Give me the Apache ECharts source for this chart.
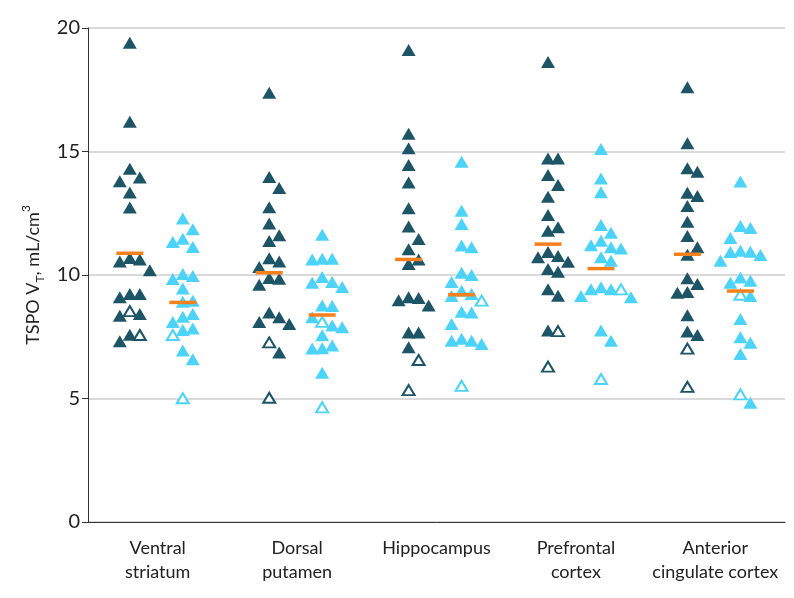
<!DOCTYPE html>
<html><head><meta charset="utf-8">
<script src="https://cdn.jsdelivr.net/npm/echarts@6/dist/echarts.min.js"></script>
<style>html,body{margin:0;padding:0;background:#fff}#c{width:794px;height:598px}</style>
</head><body><div id="c"></div>
<script>
// ---- data ----
const categories = ['Ventral\nstriatum', 'Dorsal\nputamen', 'Hippocampus', 'Prefrontal\ncortex', 'Anterior\ncingulate cortex'];
const yTicks = [0, 5, 10, 15, 20];
const darkFilled = [
  [19.4, 16.2, 14.3, 13.95, 13.8, 13.34, 12.73, 10.69, 10.63, 10.55, 10.19, 9.23, 9.23, 9.1, 8.42, 8.35, 7.58, 7.32],
  [17.38, 13.97, 13.52, 12.74, 12.09, 11.61, 11.38, 10.68, 10.55, 10.32, 9.88, 9.85, 9.61, 8.48, 8.29, 8.1, 8.02, 6.86],
  [19.11, 15.72, 15.13, 14.45, 13.74, 12.7, 11.96, 11.46, 11.04, 10.63, 10.45, 9.1, 9.07, 8.98, 8.77, 7.67, 7.67, 7.07],
  [18.62, 14.72, 14.72, 14.05, 13.64, 13.17, 12.43, 11.93, 11.79, 10.93, 10.77, 10.72, 10.54, 10.24, 10.13, 9.42, 9.16, 7.75],
  [17.6, 15.33, 14.32, 14.18, 13.33, 13.2, 12.79, 12.16, 11.58, 11.12, 10.82, 9.87, 9.64, 9.31, 9.28, 8.37, 7.71, 7.57]
];
const darkOpen = [[8.54, 7.57], [7.27, 5.03], [6.56, 5.34], [7.73, 6.29], [7.02, 5.47]];
const lightFilled = [
  [12.29, 11.85, 11.47, 11.34, 11.13, 10.04, 9.96, 9.84, 9.45, 8.96, 8.92, 8.42, 8.31, 8.1, 7.83, 7.77, 6.94, 6.59],
  [11.63, 10.66, 10.66, 10.63, 9.92, 9.72, 9.69, 9.51, 8.77, 8.74, 8.29, 7.96, 7.88, 7.56, 7.15, 7.03, 7.02, 6.04],
  [14.59, 12.6, 12.06, 11.19, 11.12, 10.09, 10.0, 9.72, 9.36, 9.23, 9.15, 8.51, 8.48, 8.02, 7.42, 7.34, 7.34, 7.21],
  [15.1, 13.91, 13.35, 12.02, 11.71, 11.39, 11.2, 11.12, 11.07, 10.72, 10.58, 9.5, 9.42, 9.42, 9.15, 9.1, 7.75, 7.34],
  [13.79, 11.98, 11.9, 11.5, 10.98, 10.94, 10.93, 10.81, 10.58, 9.9, 9.77, 9.69, 9.15, 8.22, 7.48, 7.26, 6.8, 4.83]
];
const lightOpen = [[7.57, 5.01], [8.1, 4.64], [8.96, 5.51], [9.42, 5.79], [9.2, 5.17]];
const darkMean = [10.88, 10.09, 10.63, 11.25, 10.84];
const lightMean = [8.89, 8.38, 9.2, 10.26, 9.35];

// ---- layout / style ----
const DARK = '#1e5566', LIGHT = '#4dd3f8', ORANGE = '#f7801e';
const GRID = {left: 88, right: 9, top: 28, bottom: 76};
const W = 794, H = 598;
const yMax = 20;
const pxPerY = (H - GRID.top - GRID.bottom) / yMax;
const pxPerX = (W - GRID.left - GRID.right) / categories.length;
const GROUP_OFF = 0.2;
const STEP = 5, MINDX = 10, MINDY = 13;

function swarm(filled, open, center) {
  const pts = filled.map(v => ({v, open: false})).concat(open.map(v => ({v, open: true})));
  pts.sort((a, b) => b.v - a.v);
  const placed = [];
  pts.forEach(p => {
    const py = p.v * pxPerY;
    for (let k = 0; k < 60; k++) {
      const off = (k % 2 === 1 ? 1 : -1) * Math.ceil(k / 2) * STEP;
      const ok = placed.every(q => Math.abs(q.px - off) >= MINDX || Math.abs(q.py - py) >= MINDY);
      if (ok) { placed.push({px: off, py, v: p.v, open: p.open}); break; }
    }
  });
  return placed.map(q => ({value: [center + q.px / pxPerX, q.v], open: q.open}));
}

const dF = [], dO = [], lF = [], lO = [], dM = [], lM = [];
categories.forEach((c, i) => {
  const cd = i + 0.5 - GROUP_OFF, cl = i + 0.5 + GROUP_OFF * 0.9;
  swarm(darkFilled[i], darkOpen[i], cd).forEach(p => (p.open ? dO : dF).push(p.value));
  swarm(lightFilled[i], lightOpen[i], cl).forEach(p => (p.open ? lO : lF).push(p.value));
  dM.push([cd, darkMean[i]]);
  lM.push([cl, lightMean[i]]);
});

const chart = echarts.init(document.getElementById('c'), null, {renderer: 'canvas'});
const FONT = 'Lato';
chart.setOption({
  animation: false,
  backgroundColor: '#fff',
  grid: GRID,
  xAxis: [
    {type: 'category', data: categories, boundaryGap: true,
     axisLine: {lineStyle: {color: '#333', width: 1}}, axisTick: {show: false},
     axisLabel: {interval: 0, fontFamily: FONT, fontSize: 18, lineHeight: 24, color: '#222', margin: 14}},
    {type: 'value', min: 0, max: categories.length, show: false}
  ],
  yAxis: {type: 'value', min: 0, max: yMax, interval: 5,
    axisLine: {show: true, lineStyle: {color: '#333', width: 1}},
    axisTick: {show: true, length: 6, lineStyle: {color: '#333'}},
    axisLabel: {fontFamily: FONT, fontSize: 20, color: '#222', margin: 8},
    splitLine: {lineStyle: {color: '#d9d9d9', width: 2}},
    name: '{a|TSPO V}{s|T}{a|, mL/cm}{p|3}', nameLocation: 'middle', nameGap: 38,
    nameTextStyle: {fontFamily: FONT, color: '#222', rich: {
      a: {fontFamily: FONT, fontSize: 18, lineHeight: 26, color: '#222'},
      s: {fontFamily: FONT, fontSize: 12, lineHeight: 26, color: '#222', verticalAlign: 'bottom'},
      p: {fontFamily: FONT, fontSize: 12, lineHeight: 26, color: '#222', verticalAlign: 'top'}
    }}
  },
  series: [
    {type: 'scatter', xAxisIndex: 1, data: dF, symbol: 'triangle', symbolSize: [14, 12], itemStyle: {color: DARK, opacity: 1}},
    {type: 'scatter', xAxisIndex: 1, data: dO, symbol: 'triangle', symbolSize: [12, 10], itemStyle: {color: '#fff', borderColor: DARK, borderWidth: 2, opacity: 1}},
    {type: 'scatter', xAxisIndex: 1, data: lF, symbol: 'triangle', symbolSize: [14, 12], itemStyle: {color: LIGHT, opacity: 1}},
    {type: 'scatter', xAxisIndex: 1, data: lO, symbol: 'triangle', symbolSize: [12, 10], itemStyle: {color: '#fff', borderColor: LIGHT, borderWidth: 2, opacity: 1}},
    {type: 'scatter', xAxisIndex: 1, data: dM, symbol: 'rect', symbolSize: [27, 3.5], itemStyle: {color: ORANGE, opacity: 1}, z: 5},
    {type: 'scatter', xAxisIndex: 1, data: lM, symbol: 'rect', symbolSize: [27, 3.5], itemStyle: {color: ORANGE, opacity: 1}, z: 5}
  ]
});
</script></body></html>
